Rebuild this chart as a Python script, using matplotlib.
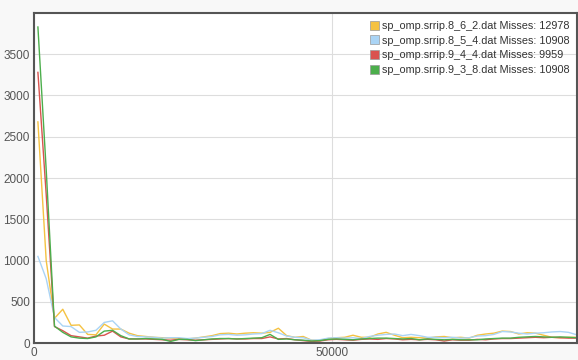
import numpy as np
import matplotlib.pyplot as plt
from matplotlib.patches import Patch

# sample positions (regular spacing)
x_start = 640
x_step = 1393
n_points = 66

yellow = [2680, 1000, 300, 410, 215, 220, 105, 100, 230, 170, 170, 120, 90,
          80, 70, 65, 60, 55, 50, 60, 75, 90, 115, 120, 110, 120, 125, 120, 130, 180, 90, 70,
          80, 35, 30, 55, 65, 70, 95, 70, 70, 110, 130, 95, 65, 70, 65, 60,
          75, 80, 65, 70, 60, 95, 110, 120, 145, 140, 110, 125, 120, 95, 70, 65, 70, 70]
blue = [1050, 780, 310, 207, 200, 130, 135, 155, 250, 270, 170, 100, 80,
        75, 70, 60, 65, 65, 55, 60, 70, 80, 100, 105, 95, 100, 110, 115, 155, 125, 85, 70,
        65, 35, 40, 60, 65, 60, 65, 55, 80, 95, 105, 110, 90, 105, 90, 70,
        70, 65, 70, 60, 65, 85, 90, 105, 140, 135, 120, 110, 120, 125, 135, 140, 130, 100]
red = [3280, 1800, 200, 150, 90, 75, 60, 85, 95, 145, 75, 50, 50,
       50, 45, 40, 35, 45, 40, 35, 40, 45, 50, 55, 50, 50, 55, 55, 75, 50, 55, 40,
       30, 20, 25, 40, 45, 40, 35, 45, 50, 45, 55, 50, 40, 45, 40, 45,
       40, 25, 40, 35, 35, 45, 40, 50, 55, 55, 60, 65, 70, 65, 70, 65, 60, 60]
green = [3830, 2100, 205, 130, 75, 60, 55, 75, 145, 155, 90, 50, 50,
         55, 50, 45, 20, 45, 45, 30, 40, 50, 55, 55, 50, 55, 60, 65, 105, 45, 50, 40,
         35, 25, 30, 45, 50, 45, 40, 50, 55, 60, 60, 55, 50, 55, 40, 50,
         45, 40, 45, 40, 40, 40, 50, 55, 60, 60, 70, 75, 80, 75, 70, 75, 70, 65]

labels = ["sp_omp.srrip.8_6_2.dat Misses: 12978",
          "sp_omp.srrip.8_5_4.dat Misses: 10908",
          "sp_omp.srrip.9_4_4.dat Misses: 9959",
          "sp_omp.srrip.9_3_8.dat Misses: 10908"]
colors = ["#f5c242", "#aad4f5", "#d9534f", "#4cae4c"]


def main():
    plt.rcParams['font.family'] = ['Liberation Sans', 'DejaVu Sans']
    x = x_start + x_step * np.arange(n_points)
    fig = plt.figure(figsize=(5.78, 3.6), dpi=100)
    fig.patch.set_facecolor("#f8f8f8")
    ax = fig.add_axes([0.059, 0.047, 0.939, 0.917])
    ax.set_facecolor("white")

    for series, c in zip([yellow, blue, red, green], colors):
        ax.plot(x, series, color=c, lw=1.0)

    ax.set_xlim(0, x[-1])
    ax.set_ylim(0, 4000)
    ax.set_yticks(np.arange(0, 4000, 500))
    ax.set_xticks([0, 50000])
    ax.grid(True, color="#dddddd", lw=0.8)
    ax.set_axisbelow(True)
    ax.tick_params(length=0, labelsize=8.5, colors="#555555", pad=3)
    for s in ax.spines.values():
        s.set_color("#555555")
        s.set_linewidth(1.5)

    handles = [Patch(facecolor=c, edgecolor="#999999", lw=0.5) for c in colors]
    ax.legend(handles, labels, loc="upper right", frameon=False, fontsize=7.8,
              handlelength=0.9, handleheight=0.9, handletextpad=0.2,
              labelspacing=0.42, borderaxespad=0.3, labelcolor="#333333")

    fig.savefig("out.png", dpi=100, facecolor=fig.get_facecolor())


if __name__ == "__main__":
    main()
